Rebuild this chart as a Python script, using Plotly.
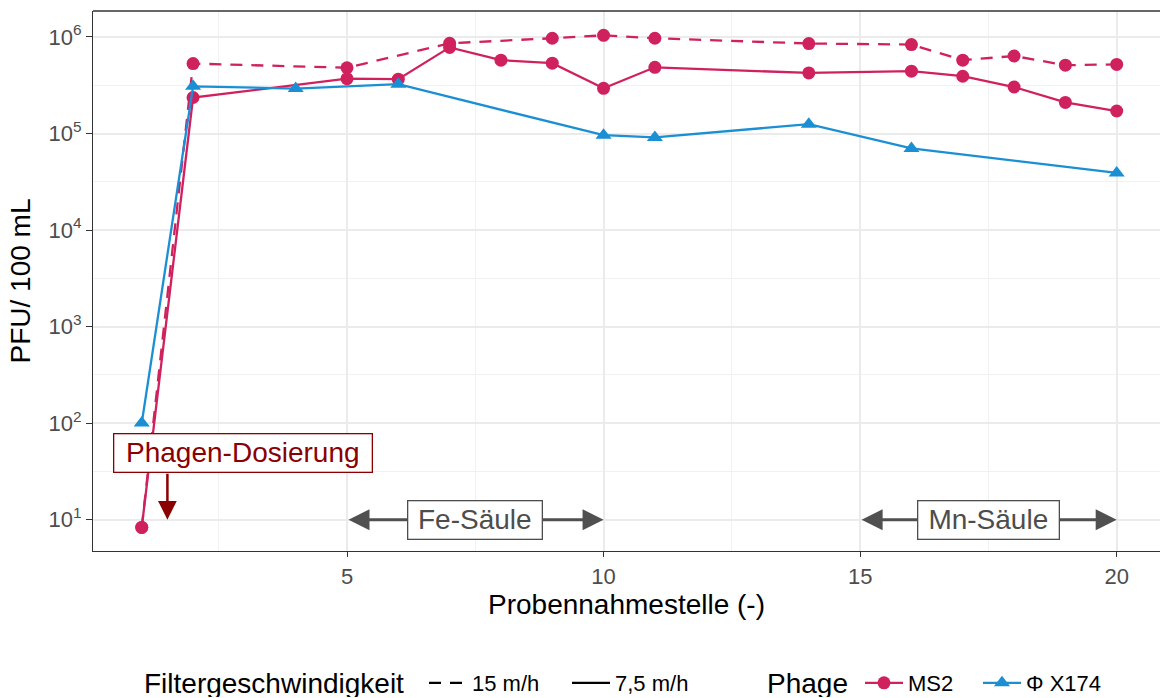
import math
import plotly.graph_objects as go

# ---------------- data ----------------
ms2_15_x = [1, 2, 5, 7, 9, 10, 11, 14, 16, 17, 18, 19, 20]
ms2_15_y = [8.3, 5.3e5, 4.8e5, 8.6e5, 9.7e5, 1.04e6, 9.7e5, 8.55e5, 8.35e5, 5.75e5, 6.35e5, 5.1e5, 5.2e5]

ms2_75_x = [1, 2, 5, 6, 7, 8, 9, 10, 11, 14, 16, 17, 18, 19, 20]
ms2_75_y = [8.3, 2.36e5, 3.7e5, 3.65e5, 7.8e5, 5.75e5, 5.35e5, 2.94e5, 4.85e5, 4.24e5, 4.42e5, 3.92e5, 3.03e5, 2.1e5, 1.71e5]

phix_75_x = [1, 2, 4, 6, 10, 11, 14, 16, 20]
phix_75_y = [100, 3.08e5, 2.92e5, 3.24e5, 9.6e4, 9.1e4, 1.25e5, 7.0e4, 3.9e4]

x_ticks = [5, 10, 15, 20]
y_tick_vals = [1e1, 1e2, 1e3, 1e4, 1e5, 1e6]
y_tick_text = ["10<sup>1</sup>", "10<sup>2</sup>", "10<sup>3</sup>", "10<sup>4</sup>", "10<sup>5</sup>", "10<sup>6</sup>"]
y_minor_vals = [10 ** (k + 0.5) for k in range(0, 7)]

speed_title = "Filtergeschwindigkeit"
speed_labels = ["15 m/h", "7,5 m/h"]
phage_title = "Phage"
phage_labels = ["MS2", "\u03a6 X174"]

dosing_x, dosing_y, dosing_label = 1.5, 10, "Phagen-Dosierung"
fe_range, fe_label = [5, 10], "Fe-S\u00e4ule"
mn_range, mn_label = [15, 20], "Mn-S\u00e4ule"

# ---------------- style ----------------
C_MS2 = "#D0215F"
C_PHIX = "#1B8FD4"
FONT = "Liberation Sans, Arial, sans-serif"
DASH = "12px,9px"
LW = 2.3

W, H = 1160, 698
ML, MR, MT, MB = 93, 0, 11, 147
PW, PH = W - ML - MR, H - MT - MB

fig = go.Figure()

fig.add_trace(go.Scatter(x=ms2_15_x, y=ms2_15_y, mode="lines+markers",
                         line=dict(color=C_MS2, width=LW, dash=DASH),
                         marker=dict(symbol="circle", size=13, color=C_MS2),
                         showlegend=False))
fig.add_trace(go.Scatter(x=ms2_75_x, y=ms2_75_y, mode="lines+markers",
                         line=dict(color=C_MS2, width=LW),
                         marker=dict(symbol="circle", size=13, color=C_MS2),
                         name=phage_labels[0], legend="legend2", legendwidth=65))
fig.add_trace(go.Scatter(x=phix_75_x, y=phix_75_y, mode="lines+markers",
                         line=dict(color=C_PHIX, width=LW),
                         marker=dict(symbol="triangle-up", size=14, color=C_PHIX),
                         name=phage_labels[1], legend="legend2", legendwidth=90))
# legend entries for filter speed
fig.add_trace(go.Scatter(x=[None], y=[None], mode="lines",
                         line=dict(color="black", width=LW, dash=DASH),
                         name=speed_labels[0], legend="legend", legendwidth=90))
fig.add_trace(go.Scatter(x=[None], y=[None], mode="lines",
                         line=dict(color="black", width=LW),
                         name=speed_labels[1], legend="legend", legendwidth=90))

GRID = "#EBEBEB"
fig.update_xaxes(range=[0.05, 20.844], tickvals=x_ticks, showgrid=True,
                 gridcolor=GRID, gridwidth=1.6,
                 minor=dict(dtick=2.5, tick0=0, showgrid=True, gridcolor="#F1F1F1", gridwidth=1),
                 showline=True, linecolor="#333333", linewidth=1.3, mirror=False,
                 ticks="outside", ticklen=5, tickwidth=1.3, tickcolor="#333333",
                 tickfont=dict(size=22, color="#4D4D4D", family=FONT),
                 title=dict(text="Probennahmestelle (-)", font=dict(size=28, color="black", family=FONT), standoff=4),
                 zeroline=False, automargin=False)
fig.update_yaxes(type="log", range=[0.675, 6.269], tickvals=y_tick_vals, ticktext=y_tick_text,
                 showgrid=True, gridcolor=GRID, gridwidth=1.6,
                 minor=dict(tickmode="array", tickvals=y_minor_vals, showgrid=True, gridcolor="#F1F1F1", gridwidth=1),
                 showline=True, linecolor="#333333", linewidth=1.3, mirror=False,
                 ticks="outside", ticklen=6, tickwidth=1.3, tickcolor="#333333",
                 tickfont=dict(size=22, color="#4D4D4D", family=FONT),
                 title=dict(text="PFU/ 100 mL", font=dict(size=28, color="black", family=FONT), standoff=9),
                 zeroline=False, automargin=False)

# top border of panel
fig.add_shape(type="line", xref="paper", yref="paper", x0=0, x1=1, y0=1, y1=1,
              line=dict(color="#333333", width=1.3))

ly = math.log10

annotations = []
# dosing arrow
annotations.append(dict(x=dosing_x, y=ly(dosing_y), ax=dosing_x, ay=1.49, xref="x", yref="y",
                        axref="x", ayref="y", text="", showarrow=True, arrowhead=2, arrowsize=1.5,
                        arrowwidth=2.5, arrowcolor="#8B0000", standoff=0))
annotations.append(dict(x=2.973, y=1.692, xref="x", yref="y", text=dosing_label, showarrow=False,
                        font=dict(size=28, color="#8B0000", family=FONT), bgcolor="white",
                        bordercolor="#8B0000", borderwidth=1.3, borderpad=2, width=253, height=33))
# column arrows
for rng, lab, w in [(fe_range, fe_label, 129), (mn_range, mn_label, 136)]:
    annotations.append(dict(x=rng[1], y=1, ax=rng[0], ay=1, xref="x", yref="y", axref="x", ayref="y",
                            text="", showarrow=True, arrowhead=2, startarrowhead=2, arrowside="end+start",
                            arrowsize=1.4, startarrowsize=1.4, arrowwidth=3, arrowcolor="#505050",
                            standoff=0, startstandoff=0))
    annotations.append(dict(x=(rng[0] + rng[1]) / 2, y=1, xref="x", yref="y", text=lab, showarrow=False,
                            font=dict(size=28, color="#4D4D4D", family=FONT), bgcolor="white",
                            bordercolor="#4D4D4D", borderwidth=1.3, borderpad=2, width=w, height=33))

# legend titles (as free text so they sit on the same line as the legend items)
LEG_Y = 683
for txt, px in [(speed_title, 143), (phage_title, 766)]:
    annotations.append(dict(x=(px - ML) / PW, y=(H - MB - LEG_Y) / PH, xref="paper", yref="paper",
                            text=txt, showarrow=False, xanchor="left", yanchor="middle", height=28,
                            font=dict(size=28, color="black", family=FONT), borderpad=0))

fig.update_layout(
    width=W, height=H,
    margin=dict(l=ML, r=MR, t=MT, b=MB, autoexpand=False),
    plot_bgcolor="white", paper_bgcolor="white",
    font=dict(family=FONT),
    annotations=annotations,
    legend=dict(orientation="h", xref="container", yref="container", x=424 / W, y=1 - LEG_Y / H,
                xanchor="left", yanchor="middle", itemwidth=38,
                font=dict(size=22, color="black", family=FONT), bgcolor="rgba(0,0,0,0)"),
    legend2=dict(orientation="h", xref="container", yref="container", x=860 / W, y=1 - LEG_Y / H,
                 xanchor="left", yanchor="middle", itemwidth=38,
                 font=dict(size=22, color="black", family=FONT), bgcolor="rgba(0,0,0,0)"),
)

fig.write_html("out.html", config={"displayModeBar": False},
               post_script="document.body.style.margin='0px';")
